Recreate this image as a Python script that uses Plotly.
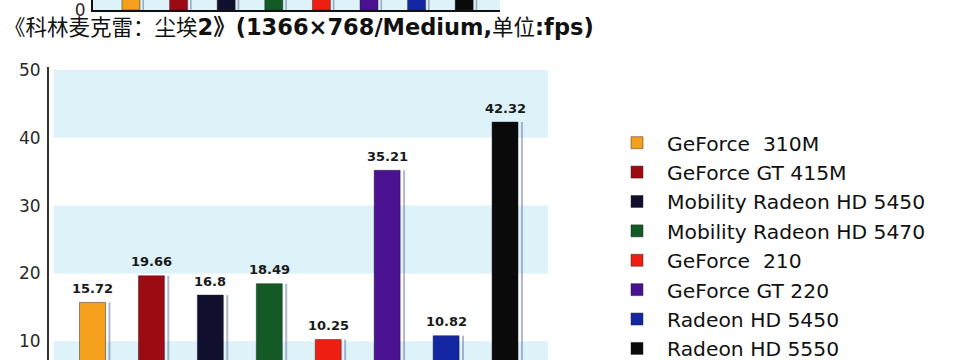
import plotly.graph_objects as go

# ---- data ----
gpus = ["GeForce  310M", "GeForce GT 415M", "Mobility Radeon HD 5450",
        "Mobility Radeon HD 5470", "GeForce  210", "GeForce GT 220",
        "Radeon HD 5450", "Radeon HD 5550"]
fps = [15.72, 19.66, 16.8, 18.49, 10.25, 35.21, 10.82, 42.32]
colors = ["#f5a01c", "#9c0b14", "#10102e", "#135a27", "#ef1e12",
          "#4a1190", "#1427a2", "#0a0a0a"]
y_ticks = [10, 20, 30, 40, 50]
bands = [(0, 10), (20, 30), (40, 50)]
# visible stubs of the previous chart (cut off at top of the picture)
prev_stub = [1, 1, 1, 1, 1, 1, 1, 1]

W, H = 969, 360
FONT = "DejaVu Sans, Liberation Sans, Arial, sans-serif"

fig = go.Figure()

# shadows (main)
fig.add_trace(go.Bar(x=gpus, y=fps, width=0.034, offset=0.27,
                     marker=dict(color="rgba(110,125,170,0.55)", line=dict(width=0)),
                     showlegend=False, hoverinfo="skip", xaxis="x", yaxis="y"))
# main bars, one trace per GPU for the legend
for g, v, c in zip(gpus, fps, colors):
    fig.add_trace(go.Bar(x=[g], y=[v], name=g, width=0.441, offset=-0.2205,
                         marker=dict(color=c, line=dict(color="rgba(30,30,30,0.45)", width=1)),
                         xaxis="x", yaxis="y", cliponaxis=True))

# top strip: bottom of previous chart
fig.add_trace(go.Bar(x=gpus, y=prev_stub, width=0.034, offset=0.24,
                     marker=dict(color="rgba(110,125,170,0.6)", line=dict(width=0)),
                     showlegend=False, hoverinfo="skip", xaxis="x2", yaxis="y2"))
fig.add_trace(go.Bar(x=gpus, y=prev_stub, width=0.378, offset=-0.189,
                     marker=dict(color=colors, line=dict(color="rgba(30,30,30,0.45)", width=1)),
                     showlegend=False, hoverinfo="skip", xaxis="x2", yaxis="y2"))

shapes = []
for y0, y1 in bands:
    shapes.append(dict(type="rect", xref="x", yref="y", x0=-0.66, x1=7.729,
                       y0=y0, y1=y1, fillcolor="#ddf2f9", line=dict(width=0),
                       layer="below"))
shapes.append(dict(type="rect", xref="x2 domain", yref="y2 domain", x0=0, x1=1,
                   y0=0, y1=1, fillcolor="#ddf2f9", line=dict(width=0), layer="below"))

annotations = []
for g, v in zip(gpus, fps):
    annotations.append(dict(x=g, y=v, xref="x", yref="y", text=str(v),
                            showarrow=False, yshift=14, yanchor="middle",
                            font=dict(family=FONT, size=13, color="#1a1a1a",
                                      weight="bold")))

title = ('<span style="font-size:21.5px">《科林麦克雷：尘埃</span>'
         '<b>2》(1366×768/Medium,</b>'
         '<span style="font-size:21.5px">单位</span><b>:fps)</b>')
annotations.append(dict(x=2 / W, y=1 - 27.5 / H, xref="paper", yref="paper",
                        xanchor="left", yanchor="middle", showarrow=False,
                        text=title,
                        font=dict(family="DejaVu Sans, Noto Sans CJK SC, sans-serif",
                                  size=22.5, color="#111")))

fig.update_layout(
    width=W, height=H,
    margin=dict(l=0, r=0, t=0, b=0, autoexpand=False),
    paper_bgcolor="white", plot_bgcolor="rgba(0,0,0,0)",
    barmode="overlay",
    showlegend=True,
    legend=dict(x=607 / W, y=1 - 123 / H, xanchor="left", yanchor="top",
                font=dict(family=FONT, size=20.3, color="#111"),
                itemwidth=50, bgcolor="rgba(0,0,0,0)", traceorder="normal"),
    xaxis=dict(domain=[49 / W, 548 / W], range=[-0.738, 7.729],
               type="category", categoryorder="array", categoryarray=gpus,
               showline=False, showticklabels=False, showgrid=False,
               zeroline=False, ticks="", automargin=False),
    yaxis=dict(domain=[0, 293 / H], range=[7.23, 50.44], tickvals=y_ticks,
               showline=True, linecolor="#333", linewidth=2, showgrid=False,
               zeroline=False, ticks="", ticklabelstandoff=3, automargin=False,
               tickfont=dict(family=FONT, size=17, color="#2a2a2a")),
    xaxis2=dict(domain=[93 / W, 500 / W], range=[-0.798, 7.752], anchor="y2",
                type="category", categoryorder="array", categoryarray=gpus,
                showline=True, linecolor="#111", linewidth=2, showticklabels=False,
                showgrid=False, zeroline=False, ticks="", automargin=False),
    yaxis2=dict(domain=[1 - 10 / H, 1], range=[0, 0.9], anchor="x2",
                tickvals=[0], ticktext=["0"], showline=True, linecolor="#111",
                linewidth=2, showgrid=False, zeroline=False, ticks="",
                ticklabelstandoff=2, automargin=False, ticklabeloverflow="allow",
                tickfont=dict(family=FONT, size=17, color="#2a2a2a")),
    shapes=shapes, annotations=annotations,
)

fig.write_html(
    "out.html",
    config={"displayModeBar": False},
    post_script="document.body.style.margin='0';document.body.style.padding='0';"
                "document.body.style.overflow='hidden';",
)
